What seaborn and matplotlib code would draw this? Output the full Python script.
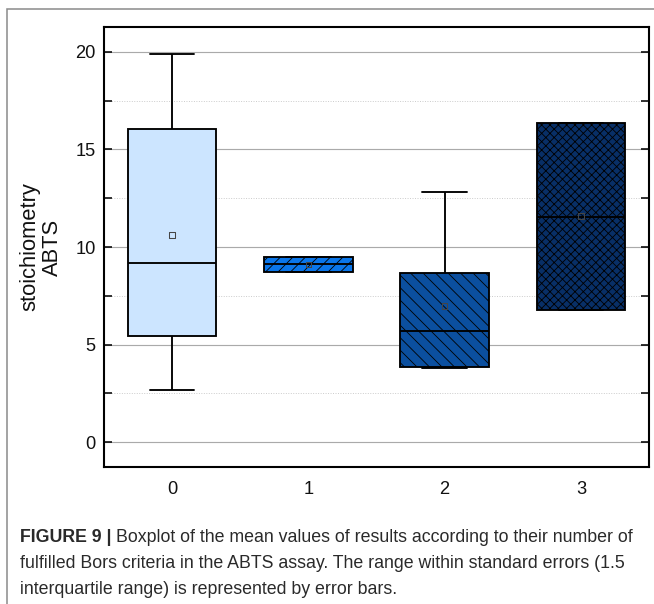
import numpy as np
import pandas as pd
import matplotlib
matplotlib.use("Agg")
import matplotlib.pyplot as plt
import seaborn as sns
from matplotlib.ticker import MultipleLocator
from matplotlib.patches import Rectangle

# box summaries
grupos = ["0", "1", "2", "3"]
whis_baixo = [2.67, 8.73, 3.81, 6.77]
q1 = [5.44, 8.73, 3.86, 6.77]
mediana = [9.19, 9.11, 5.68, 11.55]
q3 = [16.07, 9.50, 8.65, 16.34]
whis_alto = [19.9, 9.50, 12.82, 16.34]
medias = [10.63, 9.11, 6.96, 11.6]

cores = ["#cce5ff", "#0a76ea", "#0b4f9f", "#082f66"]
hachuras = ["", "//", "\\\\", "xxx"]

# five values per group -> quartiles come out exactly with whis=(0, 100)
linhas = []
for g, a, b, c, d, e in zip(grupos, whis_baixo, q1, mediana, q3, whis_alto):
    for v in (a, b, c, d, e):
        linhas.append({"grupo": g, "valor": v})
df = pd.DataFrame(linhas)

sns.set_theme(style="white")
plt.rcParams["font.family"] = ["Liberation Sans", "DejaVu Sans"]
plt.rcParams["hatch.color"] = "black"
plt.rcParams["hatch.linewidth"] = 0.8

DPI = 75
fig = plt.figure(figsize=(654 / DPI, 604 / DPI), dpi=DPI)
ax = fig.add_axes([104 / 654, 1 - 467 / 604, 545 / 654, 440 / 604])

sns.boxplot(data=df, x="grupo", y="valor", hue="grupo", order=grupos,
            hue_order=grupos, palette=cores, saturation=1, width=0.65,
            whis=(0, 100), linecolor="black", linewidth=1.8, legend=False,
            ax=ax)

for patch, h in zip(ax.patches, hachuras):
    patch.set_hatch(h)
    patch.set_edgecolor("black")

ax.scatter(range(len(grupos)), medias, marker="s", s=30, facecolors="none",
           edgecolors="#454545", linewidths=1.0, zorder=6)

ax.set_xlim(-0.5, 3.5)
ax.set_ylim(-1.27, 21.27)
ax.yaxis.set_major_locator(MultipleLocator(5))
ax.yaxis.set_minor_locator(MultipleLocator(2.5))
ax.grid(False)
ax.grid(which="major", axis="y", color="#aaaaaa", lw=1.1)
ax.grid(which="minor", axis="y", color="#c8c8c8", lw=0.9, ls=":")
ax.set_axisbelow(True)

ax.tick_params(axis="y", which="both", direction="in", left=True, right=True,
               length=8, width=1.5, color="black", labelsize=17.5, pad=8,
               labelcolor="#111111")
ax.tick_params(axis="x", length=0, labelsize=17.5, pad=13,
               labelcolor="#111111")
for s in ax.spines.values():
    s.set_visible(True)
    s.set_color("black")
    s.set_linewidth(2)

ax.set_xlabel("")
ax.set_ylabel("stoichiometry\nABTS", fontsize=21, linespacing=1.05,
              color="#111111")
ax.yaxis.set_label_coords(-0.076, 0.5)

# moldura da figura (so topo e esquerda aparecem)
fig.add_artist(Rectangle((7 / 654, -0.2), 1.3, 0.2 + 1 - 9 / 604,
                         transform=fig.transFigure, fill=False,
                         edgecolor="#8c8c8c", lw=1.5, clip_on=False))

# legenda da figura
fs = 17
x0 = 20 / 654
ys = [1 - 537 / 604, 1 - 564 / 604, 1 - 590 / 604]
cor_txt = "#2a2a2a"
t1 = fig.text(x0, ys[0], "FIGURE 9 |", fontsize=fs, weight="bold",
              va="center", color=cor_txt)
renderer = fig.canvas.get_renderer()
bb = t1.get_window_extent(renderer=renderer)
fig.text((bb.x1 + 5) / fig.bbox.width, ys[0],
         "Boxplot of the mean values of results according to their number of",
         fontsize=fs, va="center", color=cor_txt)
fig.text(x0, ys[1],
         "fulfilled Bors criteria in the ABTS assay. The range within standard errors (1.5",
         fontsize=fs, va="center", color=cor_txt)
fig.text(x0, ys[2], "interquartile range) is represented by error bars.",
         fontsize=fs, va="center", color=cor_txt)

fig.savefig("out.png", dpi=DPI)
